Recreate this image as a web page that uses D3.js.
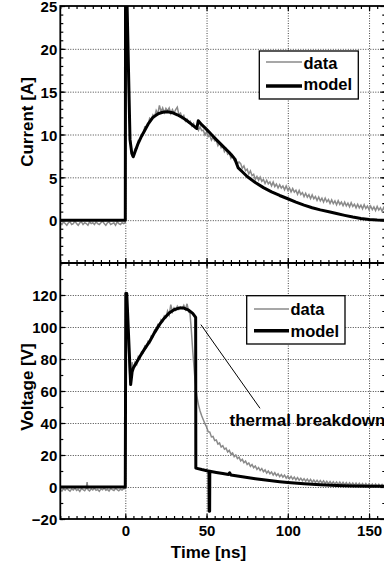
<!DOCTYPE html>
<html>
<head>
<meta charset="utf-8">
<script src="https://cdn.jsdelivr.net/npm/d3@7"></script>
<style>
  body { margin: 0; background: #fff; }
  svg { display: block; font-family: "Liberation Sans", Arial, sans-serif; font-weight: bold; }
</style>
</head>
<body>
<div id="chart"></div>
<script>
// measured current [ns, A]
const dataCurrent = [
  [-40,-0.3],[-39,-0.5],[-38,-0.2],[-37,-0.4],[-36,-0.6],[-35,-0.3],[-34,-0.2],[-33,-0.5],[-32,-0.4],[-31,-0.1],
  [-30,-0.4],[-29,-0.6],[-28,-0.3],[-27,-0.2],[-26,-0.5],[-25,-0.3],[-24,-0.4],[-23,-0.6],[-22,-0.2],[-21,-0.4],
  [-20,-0.3],[-19,-0.5],[-18,-0.2],[-17,-0.4],[-16,-0.5],[-15,-0.3],[-14,-0.1],[-13,-0.4],[-12,-0.6],[-11,-0.3],
  [-10,-0.2],[-9,-0.5],[-8,-0.4],[-7,-0.3],[-6,-0.6],[-5,-0.2],[-4,-0.4],[-3,-0.5],[-2,-0.3],[-1,-0.4],
  [0,-0.3],[0.2,14],[0.35,26],[0.9,26],[1.5,20],[2.2,14],[2.9,10.0],[3.6,8.1],[4.3,7.5],[5.0,7.6],[5.5,7.9],
  [6,8.3],[7,8.4],[8,9.3],[9,9.3],[10,10.0],[11,10.0],[12,10.9],[13,10.9],[14,11.1],[15,11.9],
  [16,11.7],[17,12.3],[18,12.05],[19,12.8],[20,12.4],[21,13.4],[22,12.65],[23,13.1],[24,12.55],[25,13.05],
  [26,12.75],[27,13.1],[28,12.45],[29,12.9],[30,12.5],[31,12.9],[32,13.2],[33,12.3],[34,12.5],[35,11.9],
  [36,12.2],[37,11.55],[38,11.8],[39,11.4],[40,11.55],[41,11.0],[42,11.3],[43,10.8],[44,11.0],[45,10.5],
  [46,10.9],[47,10.45],[48,10.5],[49,9.95],[50,10.3],[51,9.75],[52,9.9],[53,9.35],[54,9.7],[55,9.25],
  [56,9.3],[57,8.7],[58,9.05],[59,8.45],[60,8.6],[61,8.0],[62,8.3],[63,7.7],[64,7.85],[65,7.25],
  [66,7.6],[67,7.0],[68,7.1],[69,6.55],[70,6.8],[71,6.6],[72,6.04],[73,6.33],[74,5.77],[75,5.95],
  [76,5.4],[77,5.75],[78,5.2],[79,5.35],[80,4.75],[81,5.1],[82,4.65],[83,5.02],[84,4.53],[85,4.75],
  [86,4.28],[87,4.66],[88,4.24],[89,4.47],[90,4.0],[91,4.44],[92,3.93],[93,4.22],[94,3.76],[95,4.15],
  [96,3.75],[97,4.0],[98,3.55],[99,4.0],[100,3.5],[101,3.78],[102,3.31],[103,3.69],[104,3.27],[105,3.5],
  [106,3.03],[107,3.46],[108,2.99],[109,3.22],[110,2.75],[111,3.14],[112,2.68],[113,2.97],[114,2.51],[115,2.95],
  [116,2.5],[117,2.75],[118,2.3],[119,2.7],[120,2.25],[121,2.56],[122,2.12],[123,2.58],[124,2.14],[125,2.4],
  [126,1.96],[127,2.37],[128,1.93],[129,2.24],[130,1.8],[131,2.27],[132,1.84],[133,2.11],[134,1.68],[135,2.1],
  [136,1.67],[137,1.99],[138,1.56],[139,2.03],[140,1.6],[141,1.87],[142,1.44],[143,1.86],[144,1.43],[145,1.75],
  [146,1.32],[147,1.8],[148,1.37],[149,1.65],[150,1.22],[151,1.65],[152,1.22],[153,1.55],[154,1.12],[155,1.6],
  [156,1.18],[157,1.46],[158,1.04],[159,1.47],[160,1.05]
];

// model current [ns, A]
const modelCurrent = [
  [-40,0],[0,0],[0.15,26],[1.0,26],[2.9,9.4],[4.0,7.8],[4.9,7.4],[6,8.0],[8,9.0],[10,9.8],[12,10.5],
  [14,11.2],[17,12.0],[20,12.4],[23,12.6],[26,12.65],[29,12.55],[32,12.3],[35,12.0],[38,11.6],[41,11.15],
  [44,10.7],[44.9,11.6],[47,11.15],[50,10.6],[53,10.0],[56,9.4],[60,8.65],[64,7.9],[66.5,7.35],[67.5,7.1],
  [69.5,6.1],[72,5.65],[75,5.1],[80,4.4],[85,3.8],[90,3.3],[95,2.88],[100,2.5],[105,2.1],[110,1.75],
  [115,1.45],[120,1.2],[126,0.95],[130,0.78],[135,0.56],[140,0.36],[145,0.2],[150,0.08],[155,0.02],[160,0]
];

// measured voltage [ns, V]
const dataVoltage = [
  [-40,-1.5],[-39,-2.5],[-38,-1.0],[-37,-2.0],[-36,-0.8],[-35,-1.8],[-34,-2.6],[-33,-1.2],[-32,-1.9],[-31,-0.6],
  [-30,-2.2],[-29,-1.4],[-28,-2.8],[-27,-1.0],[-26,-1.7],[-25,-2.3],[-24,-0.9],[-23.5,3.0],[-23,-1.6],[-22,-2.4],[-21,-1.1],
  [-20,-1.9],[-19,-0.7],[-18,-2.1],[-17,-1.5],[-16,-2.7],[-15,-1.2],[-14,-1.8],[-13,-0.5],[-12,-2.0],[-11,-1.4],
  [-10,-2.5],[-9,-1.0],[-8,-1.7],[-7,-2.2],[-6,-0.9],[-5,-1.6],[-4,-2.4],[-3,-1.3],[-2,-1.9],[-1,-1.1],
  [0,-1.0],[0.2,60],[0.4,118],[0.8,121],[1.5,100],[2.3,78],[3.0,65],[3.6,68],[4.2,78],[4.8,73],[5.5,76],
  [6,78],[7,76.5],[8,81.5],[9,80.5],[10,84.5],[11,84],[12,88],[13,87],[14,91],[15,90],
  [16,94.5],[17,94],[18,98],[19,97.5],[20,101.5],[21,100.5],[22,104.5],[23,103.5],[24,107],[25,106],
  [26,110],[27,107.5],[28,114],[29,109.5],[30,112],[31,110.5],[32,113],[33,111],[34,112.5],[35,111.5],
  [36,113.5],[37,111],[38,114.5],[39,109.5],[39.8,108.5],[40.5,100],[41.5,85],[42.9,67],[44,57],[45,51.5],
  [46,47.5],[47,44.5],[48,42],[49,39.5],
  [50,37.6],[51,34.5],[52,34.3],[53,31.3],[54,31.6],[55,29.0],[56,29.4],[57,26.8],[58,27.5],[59,25.0],
  [60,25.8],[61,23.6],[62,24.3],[63,21.9],[64,22.9],[65,20.6],[66,21.3],[67,19.0],[68,20.0],[69,17.8],
  [70,18.6],[71,16.3],[72,17.3],[73,15.2],[74,16.2],[75,14.1],[76,15.0],[77,12.9],[78,14.0],[79,12.1],
  [80,13.1],[81,11.0],[82,12.2],[83,10.3],[84,11.5],[85,9.6],[86,10.7],[87,8.7],[88,10.0],[89,8.3],
  [90,9.4],[91,7.5],[92,8.9],[93,7.1],[94,8.3],[95,6.5],[96,7.8],[97,6.1],[98,7.4],[99,5.6],
  [100,6.9],[101,5.2],[102,6.6],[103,4.9],[104,6.2],[105,4.5],[106,5.9],[107,4.2],[108,5.5],[109,3.9],
  [110,5.2],[111,3.6],[112,4.9],[113,3.3],[114,4.7],[115,3.0],[116,4.4],[117,2.8],[118,4.2],[119,2.7],
  [120,4.0],[121,2.5],[122,3.8],[123,2.2],[124,3.6],[125,2.1],[126,3.4],[127,1.9],[128,3.3],[129,1.7],
  [130,3.1],[131,1.6],[132,3.0],[133,1.4],[134,2.9],[135,1.3],[136,2.8],[137,1.2],[138,2.6],[139,1.1],
  [140,2.5],[141,1.0],[142,2.4],[143,0.9],[144,2.3],[145,0.8],[146,2.2],[147,0.7],[148,2.1],[149,0.6],
  [150,2.0],[151,0.5],[152,1.9],[153,0.4],[154,1.8],[155,0.4],[156,1.7],[157,0.3],[158,1.6],[159,0.2],[160,1.5]
];

// model voltage [ns, V]
const modelVoltage = [
  [-40,0],[0,0],[0.3,121],[0.9,121],[3.3,64],[4.2,72],[5,74.5],[7,78],[9,81.6],[12,86.5],[15,91],
  [18,96.5],[21,101.5],[24,105.5],[27,108.8],[30,110.8],[33,111.8],[36,111.8],[39,110.5],[41.5,108.5],
  [43.3,106],[43.4,11.8],[47,10.9],[51.5,9.9],[51.6,-15.2],[51.9,-15.2],[52,9.8],[56,9.1],[60,8.4],
  [63.5,7.8],[64.2,8.9],[65,7.5],[70,6.7],[75,5.9],[80,5.2],[85,4.5],[90,3.9],[95,3.3],[100,2.8],
  [110,2.0],[120,1.4],[130,1.0],[140,0.7],[150,0.5],[160,0.4]
];

const timeTicks = [0, 50, 100, 150];
const currentTicks = [0, 5, 10, 15, 20, 25];
const voltageTicks = [-20, 0, 20, 40, 60, 80, 100, 120];
const legendLabels = ["data", "model"];

const W = 384, H = 570;
const left = 60.3, right = 385.3;
const topI = 6, mid = 263, bottomV = 519;

const x = d3.scaleLinear().domain([-40, 160]).range([left, right]);
const yI = d3.scaleLinear().domain([-5, 25]).range([mid, topI]);
const yV = d3.scaleLinear().domain([-20, 140]).range([bottomV, mid]);

const svg = d3.select("#chart").append("svg")
    .attr("width", W)
    .attr("height", H);

const defs = svg.append("defs");
defs.append("clipPath").attr("id", "clipI").append("rect")
    .attr("x", left).attr("y", topI).attr("width", right - left).attr("height", mid - topI);
defs.append("clipPath").attr("id", "clipV").append("rect")
    .attr("x", left).attr("y", mid).attr("width", right - left).attr("height", bottomV - mid);

// dotted grid
const styleGrid = g => {
    g.select(".domain").remove();
    g.selectAll("line").attr("stroke", "#444").attr("stroke-width", 1).attr("stroke-dasharray", "1,1.5");
};
svg.append("g")
    .attr("transform", `translate(0,${bottomV})`)
    .call(d3.axisBottom(x).tickValues(timeTicks).tickSize(-(bottomV - topI)).tickFormat(""))
    .call(styleGrid);
svg.append("g")
    .attr("transform", `translate(${left},0)`)
    .call(d3.axisLeft(yI).tickValues([0, 5, 10, 15, 20]).tickSize(-(right - left)).tickFormat(""))
    .call(styleGrid);
svg.append("g")
    .attr("transform", `translate(${left},0)`)
    .call(d3.axisLeft(yV).tickValues([0, 20, 40, 60, 80, 100, 120]).tickSize(-(right - left)).tickFormat(""))
    .call(styleGrid);

// inward ticks on every side
const styleTicks = g => {
    g.select(".domain").remove();
    g.selectAll("line").attr("stroke", "#000").attr("stroke-width", 1.2);
};
const minorT = d3.range(-40, 161, 5);
const minorI = d3.range(-5, 25.01, 1);
const minorV = d3.range(-20, 141, 10);

[[topI, d3.axisBottom], [mid, d3.axisTop], [mid, d3.axisBottom], [bottomV, d3.axisTop]].forEach(([yy, ax]) => {
    svg.append("g").attr("transform", `translate(0,${yy})`)
        .call(ax(x).tickValues(minorT).tickSize(3).tickFormat("")).call(styleTicks);
    svg.append("g").attr("transform", `translate(0,${yy})`)
        .call(ax(x).tickValues(timeTicks).tickSize(5).tickFormat("")).call(styleTicks);
});
[[yI, minorI, currentTicks], [yV, minorV, voltageTicks]].forEach(([sc, minor, major]) => {
    svg.append("g").attr("transform", `translate(${left},0)`)
        .call(d3.axisRight(sc).tickValues(minor).tickSize(3).tickFormat("")).call(styleTicks);
    svg.append("g").attr("transform", `translate(${left},0)`)
        .call(d3.axisRight(sc).tickValues(major).tickSize(5).tickFormat("")).call(styleTicks);
    svg.append("g").attr("transform", `translate(${right},0)`)
        .call(d3.axisLeft(sc).tickValues(minor).tickSize(3).tickFormat("")).call(styleTicks);
    svg.append("g").attr("transform", `translate(${right},0)`)
        .call(d3.axisLeft(sc).tickValues(major).tickSize(5).tickFormat("")).call(styleTicks);
});

// tick labels
const styleLabels = g => {
    g.select(".domain").remove();
    g.selectAll("text")
        .attr("font-family", '"Liberation Sans", Arial, sans-serif')
        .attr("font-weight", "bold")
        .attr("font-size", 15)
        .attr("fill", "#000");
};
svg.append("g").attr("transform", `translate(${left},0)`)
    .call(d3.axisLeft(yI).tickValues(currentTicks).tickSize(0).tickPadding(3).tickFormat(d3.format("d")))
    .call(styleLabels)
    .call(g => g.selectAll("text").attr("dy", "0.38em"));
svg.append("g").attr("transform", `translate(${left},0)`)
    .call(d3.axisLeft(yV).tickValues(voltageTicks).tickSize(0).tickPadding(3).tickFormat(d3.format("d")))
    .call(styleLabels)
    .call(g => g.selectAll("text").attr("dy", "0.38em"));
svg.append("g").attr("transform", `translate(0,${bottomV})`)
    .call(d3.axisBottom(x).tickValues(timeTicks).tickSize(0).tickPadding(6.3).tickFormat(d3.format("d")))
    .call(styleLabels);

// curves
const lineI = d3.line().x(d => x(d[0])).y(d => yI(d[1]));
const lineV = d3.line().x(d => x(d[0])).y(d => yV(d[1]));

const gI = svg.append("g").attr("clip-path", "url(#clipI)");
gI.append("path").datum(dataCurrent).attr("d", lineI)
    .attr("fill", "none").attr("stroke", "#8a8a8a").attr("stroke-width", 1.5);
gI.append("path").datum(modelCurrent).attr("d", lineI)
    .attr("fill", "none").attr("stroke", "#000").attr("stroke-width", 3).attr("stroke-linejoin", "round");

const gV = svg.append("g").attr("clip-path", "url(#clipV)");
gV.append("path").datum(dataVoltage).attr("d", lineV)
    .attr("fill", "none").attr("stroke", "#8a8a8a").attr("stroke-width", 1.5);
gV.append("path").datum(modelVoltage).attr("d", lineV)
    .attr("fill", "none").attr("stroke", "#000").attr("stroke-width", 3).attr("stroke-linejoin", "round");

// frame
svg.append("rect")
    .attr("x", left).attr("y", topI).attr("width", right - left).attr("height", bottomV - topI)
    .attr("fill", "none").attr("stroke", "#000").attr("stroke-width", 1.8);
svg.append("line")
    .attr("x1", left).attr("x2", right).attr("y1", mid).attr("y2", mid)
    .attr("stroke", "#000").attr("stroke-width", 1.8);

// legends
const drawLegend = (bx, by, bw, bh, lx1, lx2, ly, tx, ty) => {
    const g = svg.append("g");
    g.append("rect").attr("x", bx).attr("y", by).attr("width", bw).attr("height", bh)
        .attr("fill", "#fff").attr("stroke", "#000").attr("stroke-width", 1.3);
    legendLabels.forEach((lab, i) => {
        g.append("line").attr("x1", lx1).attr("x2", lx2).attr("y1", ly[i]).attr("y2", ly[i])
            .attr("stroke", i === 0 ? "#8a8a8a" : "#000").attr("stroke-width", i === 0 ? 1.5 : 3.5);
        g.append("text").attr("x", tx).attr("y", ty[i]).text(lab)
            .attr("font-size", 16.5).attr("fill", "#000");
    });
};
drawLegend(259.3, 51, 99, 48, 266, 302, [62, 86], 303.5, [68.5, 90]);
drawLegend(246.7, 295.7, 98.3, 48.3, 254, 289, [309, 330.7], 290.5, [315, 337]);

// annotation
svg.append("line")
    .attr("x1", x(46.5)).attr("y1", yV(101.5))
    .attr("x2", 260).attr("y2", 408.3)
    .attr("stroke", "#000").attr("stroke-width", 1);
svg.append("text").attr("x", 229.5).attr("y", 426).text("thermal breakdown")
    .attr("font-size", 17).attr("fill", "#000");

// axis titles
svg.append("text").attr("transform", "translate(33,122) rotate(-90)")
    .attr("text-anchor", "middle").attr("font-size", 17).text("Current [A]");
svg.append("text").attr("transform", "translate(33,387) rotate(-90)")
    .attr("text-anchor", "middle").attr("font-size", 17).text("Voltage [V]");
svg.append("text").attr("x", 208.5).attr("y", 558)
    .attr("text-anchor", "middle").attr("font-size", 17).text("Time [ns]");
</script>
</body>
</html>
